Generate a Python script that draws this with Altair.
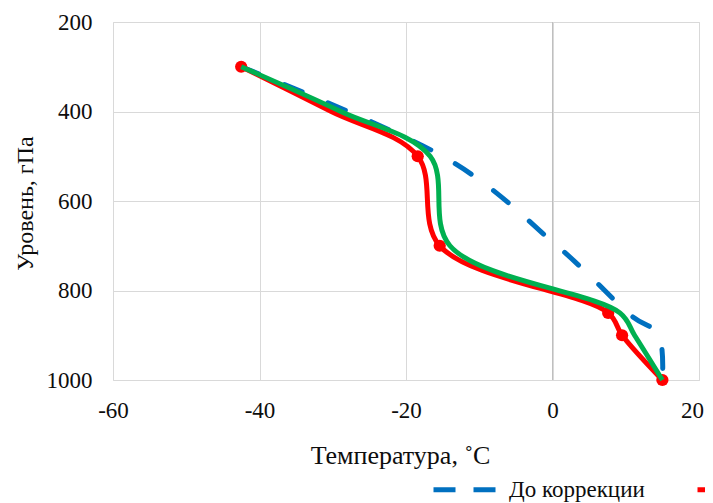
import altair as alt
import pandas as pd

levels = [300, 500, 700, 850, 900, 1000]
t_before = [-42.5, -15.0, 0.6, 10.3, 14.5, 15.0]

after_levels = [300, 400, 500, 700, 850, 900, 1000]
t_after = [-42.5, -30.2, -18.4, -15.4, 7.6, 9.5, 15.0]
after_marker = [True, False, True, True, True, True, True]

obs_levels = [300, 400, 500, 700, 850, 900, 1000]
t_obs = [-42.5, -28.9, -16.7, -14.0, 9.2, 11.2, 15.0]

series_names = ["До коррекции", "После коррекции", "Наблюдения"]
series_colors = ["#0070C0", "#FF0000", "#00B050"]
x_ticks = [-60, -40, -20, 0, 20]
y_ticks = [200, 400, 600, 800, 1000]
zero_line = [0]

rows = []
for p, t in zip(levels, t_before):
    rows.append({"series": series_names[0], "p": p, "t": t, "marker": False})
for p, t, m in zip(after_levels, t_after, after_marker):
    rows.append({"series": series_names[1], "p": p, "t": t, "marker": m})
for p, t in zip(obs_levels, t_obs):
    rows.append({"series": series_names[2], "p": p, "t": t, "marker": False})
df = pd.DataFrame(rows)

FONT = "Liberation Serif"
TXT = "#0d0d0d"

x_enc = alt.X(
    "t:Q",
    scale=alt.Scale(domain=[-60, 20], nice=False, zero=False),
    axis=alt.Axis(
        values=x_ticks, title="Температура, ˚C", grid=True, gridColor="#d9d9d9",
        domain=False, ticks=False, labelPadding=19, labelFontSize=23,
        labelFlush=False, labelExpr="datum.value + ''",
        labelOffset={"condition": {"test": "datum.value == 20", "value": -7}, "value": 0},
        labelFont=FONT, labelColor=TXT, titleFont=FONT, titleFontSize=26,
        titleFontWeight="normal", titleColor=TXT, titleX=287, titleY=83,
        titleBaseline="alphabetic", titleAlign="center",
    ),
)
y_enc = alt.Y(
    "p:Q",
    scale=alt.Scale(domain=[200, 1000], reverse=True, nice=False, zero=False),
    axis=alt.Axis(
        values=y_ticks, title="Уровень, гПа", grid=True, gridColor="#d9d9d9",
        domain=False, ticks=False, labelPadding=21, labelFontSize=23,
        labelFlush=False, labelExpr="datum.value + ''",
        labelFont=FONT, labelColor=TXT, titleFont=FONT, titleFontSize=24,
        titleFontWeight="normal", titleColor=TXT, titleX=-81, titleY=181,
        titleBaseline="alphabetic", titleAlign="center", titleAngle=270,
    ),
)
color_enc = alt.Color(
    "series:N",
    scale=alt.Scale(domain=series_names, range=series_colors),
    legend=alt.Legend(
        orient="none", legendX=318, legendY=434, direction="horizontal",
        title=None, symbolType="stroke", symbolSize=3844, symbolStrokeWidth=5,
        symbolDash=[22, 18], labelFont=FONT, labelFontSize=23,
        labelColor=TXT, labelOffset=11, columnPadding=42, labelLimit=0,
    ),
)

base = alt.Chart(df)

zero_rule = alt.Chart(pd.DataFrame({"t": zero_line})).mark_rule(
    color="#bfbfbf", strokeWidth=1
).encode(x=alt.X("t:Q", scale=alt.Scale(domain=[-60, 20])))

blue = base.transform_filter(alt.datum.series == series_names[0]).mark_line(
    interpolate="cardinal", strokeWidth=5, strokeDash=[19, 28], strokeCap="round"
).encode(x=x_enc, y=y_enc, color=color_enc, order="p:Q")

red = base.transform_filter(alt.datum.series == series_names[1]).mark_line(
    interpolate="catmull-rom", strokeWidth=5
).encode(x=x_enc, y=y_enc, color=color_enc, order="p:Q")

red_pts = base.transform_filter(
    (alt.datum.series == series_names[1]) & alt.datum.marker
).mark_circle(size=150, opacity=1).encode(x=x_enc, y=y_enc, color=color_enc)

green = base.transform_filter(alt.datum.series == series_names[2]).mark_line(
    interpolate="catmull-rom", strokeWidth=5
).encode(x=x_enc, y=y_enc, color=color_enc, order="p:Q")

chart = alt.layer(zero_rule, blue, red, red_pts, green).properties(
    width=586, height=358,
    autosize=alt.AutoSizeParams(type="none"),
    padding={"left": 105, "top": 14, "right": 6, "bottom": 123},
).configure_view(stroke=None).configure(background="white")

chart.save("out.html", embed_options={"renderer": "svg", "actions": False})
